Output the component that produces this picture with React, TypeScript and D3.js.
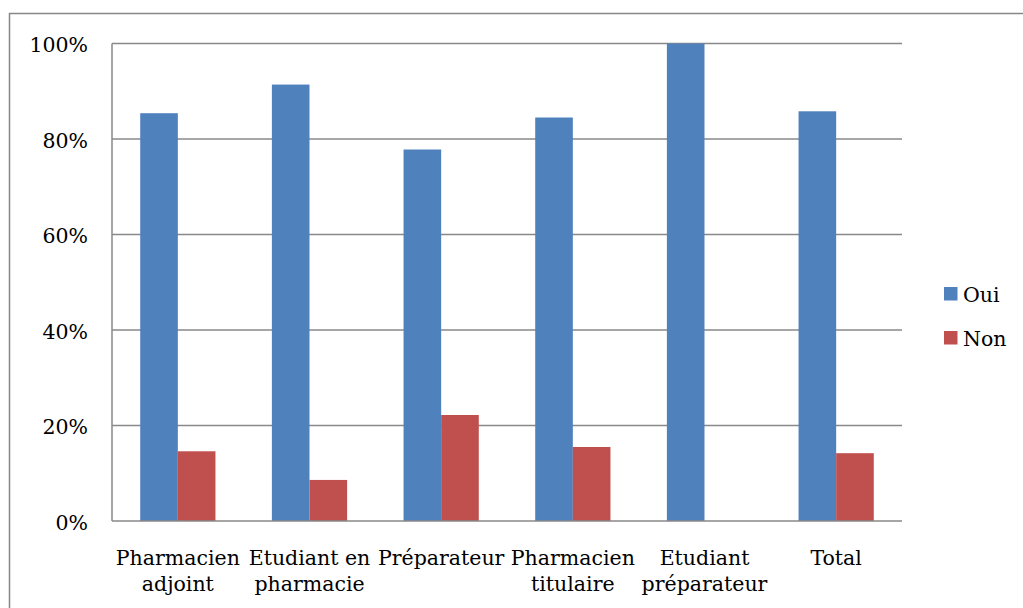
import React, { useEffect, useRef } from "react";
import * as d3 from "d3";

// data
const categories = ["Pharmacien adjoint", "Etudiant en pharmacie", "Préparateur", "Pharmacien titulaire", "Etudiant préparateur", "Total"];
const categoryLines = [["Pharmacien", "adjoint"], ["Etudiant en", "pharmacie"], ["Préparateur"], ["Pharmacien", "titulaire"], ["Etudiant", "préparateur"], ["Total"]];
const series = ["Oui", "Non"];
const ouiValues = [0.854, 0.914, 0.778, 0.845, 1.0, 0.858];
const nonValues = [0.146, 0.086, 0.222, 0.155, 0.0, 0.142];
const yTicks = [0, 0.2, 0.4, 0.6, 0.8, 1.0];

const colors = ["#4F81BD", "#C0504D"];
const font = "DejaVu Serif, serif";

const App: React.FC = () => {
    const svgRef = useRef<SVGSVGElement | null>(null);

    useEffect(() => {
        const svg = d3.select(svgRef.current);
        svg.selectAll("*").remove();

        const left = 112, right = 902, top = 43.5, bottom = 521;

        // outer chart border (runs off the right/bottom edge)
        svg.append("rect")
            .attr("x", 9.5).attr("y", 13.5)
            .attr("width", 1030).attr("height", 620)
            .attr("fill", "white").attr("stroke", "#878787").attr("stroke-width", 1.5);

        const x0 = d3.scaleBand<string>().domain(categories).range([left, right]).padding(0);
        const x1 = d3.scaleBand<string>().domain(series).range([0, x0.bandwidth()]).paddingInner(0).paddingOuter(0.75);
        const y = d3.scaleLinear().domain([0, 1]).range([bottom, top]);

        // gridlines
        svg.append("g").selectAll("line")
            .data(yTicks.filter((t) => t > 0))
            .join("line")
            .attr("x1", left).attr("x2", right)
            .attr("y1", (d) => y(d)).attr("y2", (d) => y(d))
            .attr("stroke", "#898989").attr("stroke-width", 1.5);

        // bars
        const rows = categories.map((c, i) => ({ cat: c, vals: [ouiValues[i], nonValues[i]] }));
        const groups = svg.append("g").selectAll("g")
            .data(rows)
            .join("g")
            .attr("transform", (d) => `translate(${x0(d.cat)},0)`);
        groups.selectAll("rect")
            .data((d) => d.vals.map((v, j) => ({ key: series[j], v, j })))
            .join("rect")
            .attr("x", (d) => x1(d.key)!)
            .attr("width", x1.bandwidth())
            .attr("y", (d) => y(d.v))
            .attr("height", (d) => bottom - y(d.v))
            .attr("fill", (d) => colors[d.j]);

        // axes lines
        svg.append("line").attr("x1", left).attr("x2", left).attr("y1", top).attr("y2", bottom)
            .attr("stroke", "#898989").attr("stroke-width", 1.5);
        svg.append("line").attr("x1", left).attr("x2", right).attr("y1", bottom).attr("y2", bottom)
            .attr("stroke", "#898989").attr("stroke-width", 1.5);

        // y tick labels
        svg.append("g").selectAll("text")
            .data(yTicks)
            .join("text")
            .attr("x", left - 24)
            .attr("y", (d) => y(d) + 8.5)
            .attr("text-anchor", "end")
            .attr("font-family", font).attr("font-size", 20.5)
            .text((d) => d3.format(".0%")(d));

        // category labels
        const labels = svg.append("g").selectAll("text")
            .data(categories)
            .join("text")
            .attr("x", (d) => x0(d)! + x0.bandwidth() / 2)
            .attr("y", 565)
            .attr("text-anchor", "middle")
            .attr("font-family", font).attr("font-size", 20.5);
        labels.selectAll("tspan")
            .data((d, i) => categoryLines[i])
            .join("tspan")
            .attr("x", function () { return (this.parentNode as SVGTextElement).getAttribute("x"); })
            .attr("dy", (d, i) => (i === 0 ? 0 : 26))
            .text((d) => d);

        // legend
        series.forEach((s, i) => {
            svg.append("rect").attr("x", 944).attr("y", 287 + i * 44).attr("width", 13.5).attr("height", 13.5)
                .attr("fill", colors[i]);
            svg.append("text").attr("x", 963).attr("y", 301.5 + i * 44)
                .attr("font-family", font).attr("font-size", 20.5).text(s);
        });
    }, []);

    return (
        <svg ref={svgRef} width={1023} height={608}
            style={{ position: "absolute", left: 0, top: 0, display: "block" }} />
    );
};

export default App;
